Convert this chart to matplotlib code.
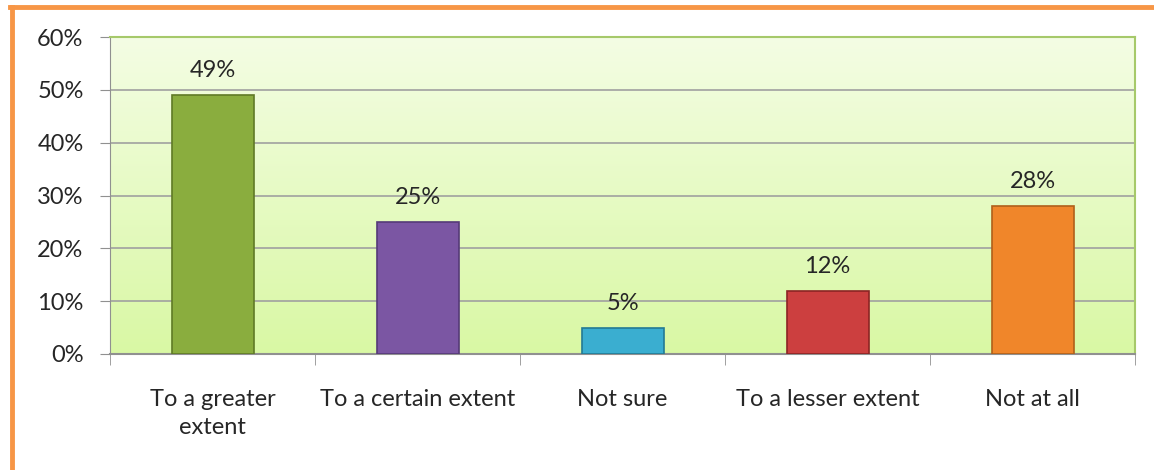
import matplotlib.pyplot as plt
import numpy as np
from matplotlib.lines import Line2D

categories = ["To a greater\nextent", "To a certain extent", "Not sure", "To a lesser extent", "Not at all"]
values = [49, 25, 5, 12, 28]
colors = ["#8aad3e", "#7b56a3", "#3aaed0", "#cc3f3f", "#f0862a"]
edges = ["#5f7a26", "#553a78", "#237a94", "#8c2424", "#b0601a"]
yticks = [0, 10, 20, 30, 40, 50, 60]

plt.rcParams['font.family'] = ['Lato', 'DejaVu Sans']

fig = plt.figure(figsize=(11.54, 4.70), dpi=100)
ax = fig.add_axes([110/1154, 116/470, 1025/1154, 317/470])

x = np.arange(len(categories))

# gradient background
grad = np.linspace(0, 1, 256).reshape(-1, 1)
ax.imshow(grad, extent=[-0.5, 4.5, 0, 60], aspect='auto', origin='upper',
          cmap=plt.matplotlib.colors.LinearSegmentedColormap.from_list("g", ["#f4fde4", "#d9f8a4"]),
          zorder=0)

for yv in yticks[1:]:
    ax.axhline(yv, color="#a0a0a0", lw=1.2, zorder=1)

ax.bar(x, values, width=0.4, color=colors, edgecolor=edges, linewidth=1.2, zorder=3)

for xi, v in zip(x, values):
    ax.annotate(f"{v}%", (xi, v), xytext=(0, 10), textcoords="offset points",
                ha="center", va="bottom", fontsize=17, color="#262626")

ax.set_xlim(-0.5, 4.5)
ax.set_ylim(0, 60)
ax.set_yticks(yticks)
ax.set_yticklabels([f"{t}%" for t in yticks], fontsize=17, color="#262626")
ax.set_xticks(x)
ax.set_xticklabels(categories, fontsize=17, color="#262626", linespacing=1.45, va="top")
ax.tick_params(axis="x", which="major", length=0, pad=25)
ax.set_xticks(np.arange(-0.5, 5, 1), minor=True)
ax.tick_params(axis="x", which="minor", length=8, color="#909090", direction="out")
ax.tick_params(axis="y", length=7, color="#909090", pad=12)

for s in ["top", "right"]:
    ax.spines[s].set_color("#a6c96a")
    ax.spines[s].set_linewidth(1.5)
ax.spines["left"].set_color("#909090")
ax.spines["bottom"].set_color("#909090")
ax.spines["bottom"].set_linewidth(1.5)

# orange frame
fig.add_artist(Line2D([10/1154, 1], [1 - 7/470, 1 - 7/470], color="#f79646", lw=3.5))
fig.add_artist(Line2D([12/1154, 12/1154], [0, 1 - 7/470], color="#f79646", lw=3.5))

plt.savefig("out.png", dpi=100)
